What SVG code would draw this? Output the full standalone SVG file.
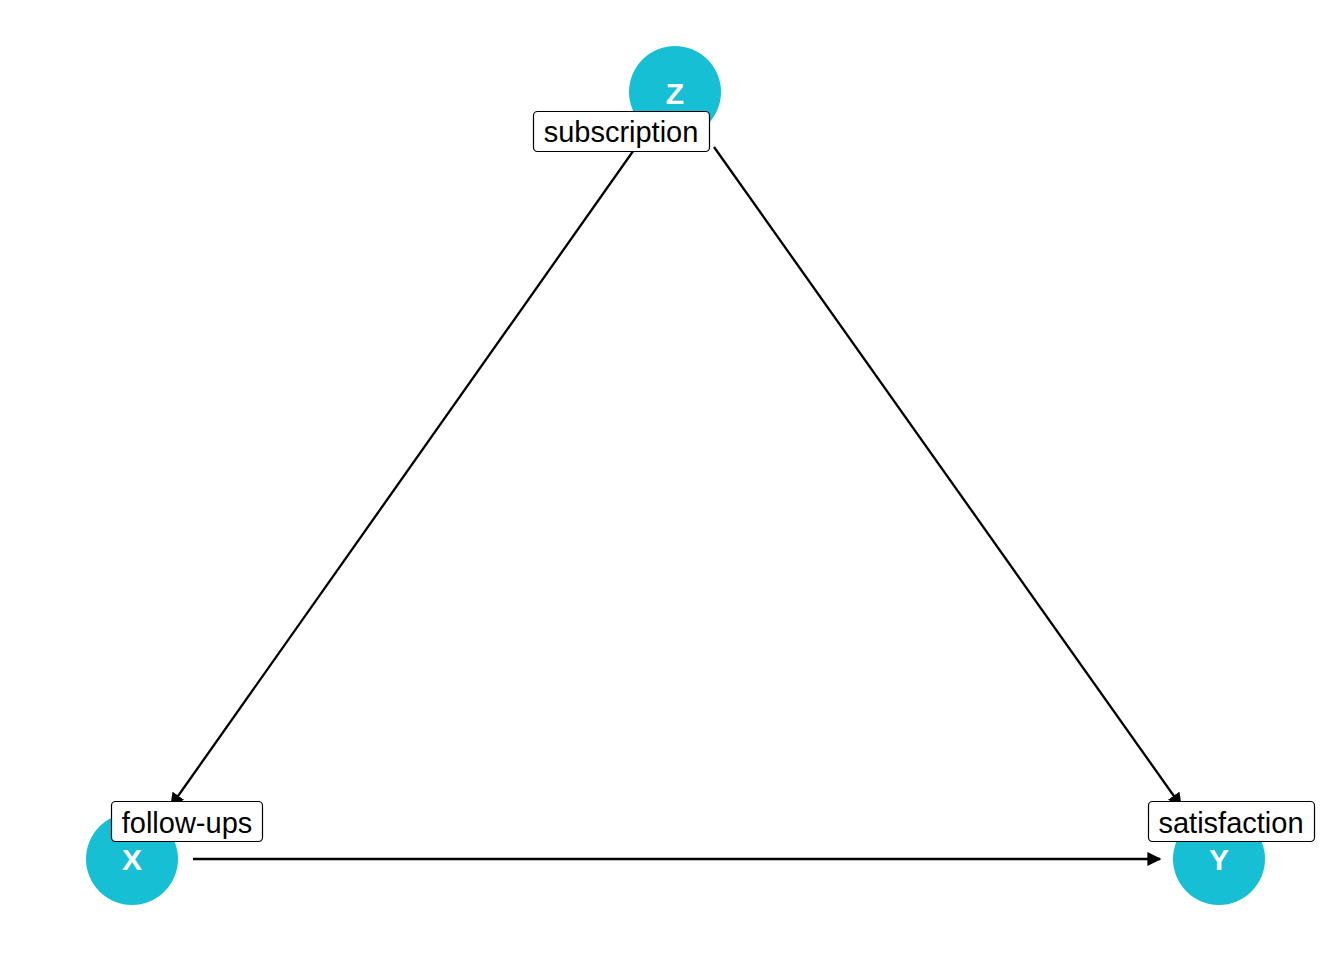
<svg xmlns="http://www.w3.org/2000/svg" width="1344" height="960" viewBox="0 0 1344 960">
<style>
.node circle{fill:#17BFD5}
.nl{font-family:"Liberation Sans",Arial,sans-serif;font-weight:bold;font-size:30px;fill:#fff;text-anchor:middle}
.lab rect{fill:#fff;stroke:#000;stroke-width:1.2}
.lab text{font-family:"Liberation Sans",Arial,sans-serif;font-size:29px;fill:#000;text-anchor:middle}
.edge{stroke:#000;stroke-width:2.3;fill:none}
</style>
<defs>
<marker id="ah" viewBox="0 0 10 10" refX="9" refY="5" markerWidth="14" markerHeight="14" orient="auto" markerUnits="userSpaceOnUse">
<path d="M0,0 L10,5 L0,10 Z" fill="#000"/>
</marker>
</defs>
<rect width="1344" height="960" fill="#fff"/>
<g id="nodes-circles">
<g id="node-Z" class="node"><circle cx="675" cy="92" r="46"/><text class="nl" x="675" y="104">Z</text></g>
<g id="node-X" class="node"><circle cx="132" cy="859" r="46"/><text class="nl" x="132" y="870">X</text></g>
<g id="node-Y" class="node"><circle cx="1219" cy="859" r="46"/><text class="nl" x="1219" y="870">Y</text></g>
</g>
<g id="connectors">
<line class="edge" x1="714" y1="147" x2="1181" y2="806" marker-end="url(#ah)"/>
<line class="edge" x1="636" y1="147" x2="171" y2="806" marker-end="url(#ah)"/>
<line class="edge" x1="193" y1="859" x2="1160" y2="859" marker-end="url(#ah)"/>
</g>
<g id="label-Z" class="lab"><rect x="533.5" y="111.5" width="176" height="40" rx="4"/><text x="621" y="142">subscription</text></g>
<g id="label-X" class="lab"><rect x="111.5" y="801.5" width="151" height="40" rx="4"/><text x="187" y="833">follow-ups</text></g>
<g id="label-Y" class="lab"><rect x="1148.5" y="801.5" width="166" height="40" rx="4"/><text x="1231" y="833">satisfaction</text></g>
</svg>
